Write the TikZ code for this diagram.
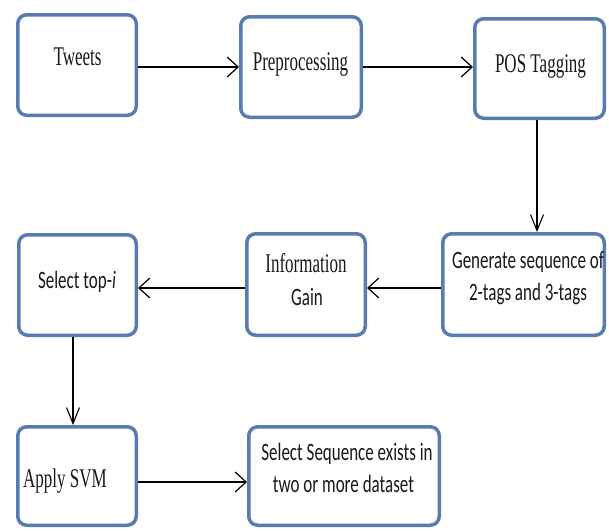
\documentclass[tikz,border=0pt]{standalone}
\usepackage{fontspec}
\usetikzlibrary{arrows.meta}
\newfontfamily\serifc[FakeStretch=0.63]{Liberation Serif}
\newfontfamily\sansc[FakeStretch=0.68]{Carlito}
\definecolor{boxblue}{RGB}{88,124,176}
\definecolor{txt}{RGB}{25,25,25}
\begin{document}
\begin{tikzpicture}[x=1pt,y=-1pt,
  box/.style={draw=boxblue, line width=3.5pt, rounded corners=9pt, fill=white, inner sep=0pt},
  serift/.style={font=\serifc\fontsize{27}{32}\selectfont, text=txt, anchor=base, inner sep=0pt},
  sanst/.style={font=\sansc\fontsize{25}{32}\selectfont, text=txt, anchor=base, inner sep=0pt},
  harr/.style={draw=black, line width=1.8pt, -{Straight Barb[length=11pt,width=20pt,line width=1.2pt]}},
  varr/.style={draw=black, line width=1.2pt, -{Straight Barb[length=16pt,width=13pt,line width=1.1pt]}}
]
\fill[white] (0,0) rectangle (609,530);
\useasboundingbox (0,0) rectangle (609,530);

\node[box, minimum width=118.5pt, minimum height=100.5pt] (tweets) at (77,65) {};
\node[box, minimum width=120.5pt, minimum height=100.5pt] (prep) at (301,67) {};
\node[box, minimum width=129.5pt, minimum height=99.5pt] (pos) at (539.5,68.5) {};
\node[box, minimum width=161.5pt, minimum height=101.5pt] (gen) at (523.5,284.5) {};
\node[box, minimum width=118.5pt, minimum height=101.5pt] (info) at (306,284.5) {};
\node[box, minimum width=117.5pt, minimum height=100.5pt] (top) at (77.5,285) {};
\node[box, minimum width=118.5pt, minimum height=98.5pt] (svm) at (77,476) {};
\node[box, minimum width=190.5pt, minimum height=98.5pt] (sel) at (344,476) {};

\node[serift] (tweetsT) at (77.5,65) {Tweets};
\node[serift] (prepT) at (300.5,70) {Preprocessing};
\node[serift] (posT) at (540.5,72) {POS Tagging};
\node[sanst] (genT1) at (528,268) {Generate sequence of};
\node[sanst] (genT2) at (528,300) {2-tags and 3-tags};
\node[serift] (infoT1) at (306,272) {Information};
\node[sanst] (infoT2) at (307,305) {Gain};
\node[sanst] (topT) at (77,288) {Select top-\textit{i}};
\node[serift] (svmT) at (65,487) {Apply SVM};
\node[sanst] (selT1) at (347,460) {Select Sequence exists in};
\node[sanst] (selT2) at (343.5,492) {two or more dataset};

\draw[harr] (tweets.east |- prep.west) -- (prep.west);
\draw[harr] (prep.east) -- (prep.east -| pos.west);
\draw[varr] ([xshift=-2.5pt]pos.south) -- ([xshift=-2.5pt]pos.south |- gen.north);
\draw[harr] ([yshift=-3.5pt]gen.west) -- ([yshift=-3.5pt]gen.west -| info.east);
\draw[harr] ([yshift=-3.5pt]info.west) -- ([yshift=-3.5pt]info.west -| top.east);
\draw[varr] ([xshift=-4.5pt]top.south) -- ([xshift=-4.5pt]top.south |- svm.north);
\draw[harr] ([yshift=-6pt]svm.east) -- ([yshift=-6pt]svm.east -| sel.west);
\end{tikzpicture}
\end{document}
